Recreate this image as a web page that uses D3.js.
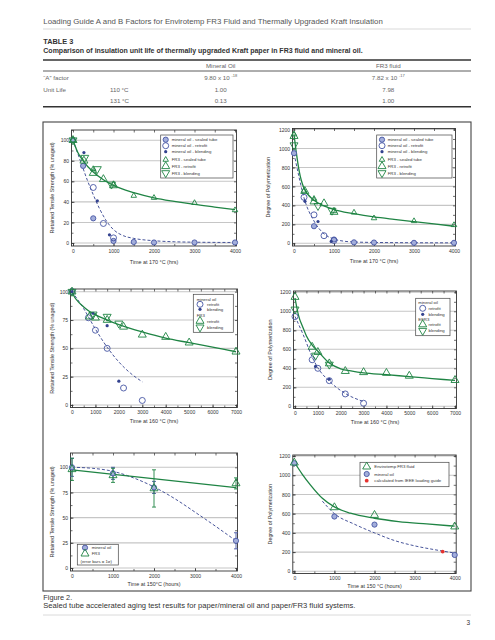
<!DOCTYPE html>
<html><head><meta charset="utf-8">
<script src="https://cdn.jsdelivr.net/npm/d3@7"></script>
<style>body{margin:0;background:#fff} svg{display:block;font-family:"Liberation Sans",Arial,Helvetica,sans-serif}</style>
</head><body><svg id="c" width="495" height="640"></svg>
<script>
// ---------- Table data ----------
const tableCols = ["Mineral Oil", "FR3 fluid"];
const aFactorBase = ["9.80 x 10", "7.82 x 10"];
const aFactorExp = ["-18", "-17"];
const unitLife110 = ["1.00", "7.98"];
const unitLife131 = ["0.13", "1.00"];

// ---------- Panel A: tensile, 170 C ----------
const a_moSealed = [[0,100],[250,75],[500,24],[1000,2],[1500,1],[2000,0.5],[3000,0.5],[4000,0.5]];
const a_moRetrofit = [[500,54],[750,19],[1000,5]];
const a_moBlend = [[270,88],[600,41],[900,8]];
const a_frSealed = [[0,100],[500,72],[1000,57],[1500,46],[2000,44],[3000,39],[4000,32]];
const a_frRetrofit = [[0,100],[270,80],[500,68],[750,62],[1000,56]];
const a_frBlend = [[0,100],[290,83],[600,72],[950,57]];
const a_moFit = [[0,100],[200,78],[355,61],[500,47],[660,33],[800,23],[1000,13],[1250,7],[1500,4.5],[2000,2.2],[2500,1.2],[3000,0.8],[4000,0.5]];
const a_frFit = [[0,100],[120,88],[250,80],[500,69],[750,61.5],[1000,56],[1500,49],[2000,44],[2500,40.5],[3000,37.5],[3500,35],[4000,32.5]];

// ---------- Panel B: DP, 170 C ----------
const b_moSealed = [[0,950],[500,180],[1000,40],[1500,10],[2000,8],[3000,5],[4000,5]];
const b_moRetrofit = [[250,485],[500,300],[750,80],[1000,30]];
const b_moBlend = [[275,443],[600,230],[930,20]];
const b_frSealed = [[0,1150],[250,555],[500,470],[1000,340],[1500,325],[2000,265],[3000,235],[4000,193]];
const b_frRetrofit = [[0,1130],[270,550],[500,440],[750,420],[1000,330]];
const b_frBlend = [[0,1035],[600,395],[950,345]];
const b_moFit = [[0,950],[125,700],[250,480],[500,235],[750,100],[1000,45],[1250,22],[1500,14],[2000,9],[3000,6],[4000,5]];
const b_frFit = [[0,1150],[60,950],[130,760],[250,580],[500,455],[750,395],[1000,355],[1500,312],[2000,278],[2500,252],[3000,228],[3500,205],[4000,180]];

// ---------- Panel C: tensile, 160 C ----------
const c_moRetrofit = [[0,100],[700,77],[1000,66],[1500,50],[2200,15],[3000,4]];
const c_moBlend = [[0,100],[900,81],[1500,70],[2000,21]];
const c_frRetrofit = [[0,100],[750,78],[1000,77],[1500,75],[2200,69],[3000,62],[4000,60],[5000,55],[7000,47]];
const c_frBlend = [[0,100],[900,80],[1500,78],[2000,72]];
const c_moFit = [[0,100],[500,85],[1000,67],[1500,51],[2000,38],[2500,28],[3000,20.5]];
const c_frFit = [[0,100],[100,95.5],[250,91.5],[500,86.5],[750,82.5],[1000,79.5],[1500,75],[2000,71],[3000,64.5],[4000,59],[5000,55],[6000,51],[7000,47]];

// ---------- Panel D: DP, 160 C ----------
const d_moRetrofit = [[0,945],[750,490],[1000,400],[1500,270],[2200,130],[3000,32]];
const d_moBlend = [[900,420],[1500,285]];
const d_frRetrofit = [[0,1150],[750,625],[1000,570],[1500,450],[2200,370],[3000,358],[4000,350],[5000,320],[7000,275]];
const d_frBlend = [[0,1020],[900,535],[1500,440]];
const d_moFit = [[0,945],[365,750],[750,520],[1000,405],[1500,265],[2200,135],[3000,50]];
const d_frFit = [[0,1140],[150,960],[365,820],[500,740],[750,645],[1000,580],[1500,455],[2000,395],[2500,370],[3000,352],[4000,333],[5000,312],[6000,292],[7000,272]];

// ---------- Panel E: tensile, 150 C (mean, 1 sigma) ----------
const e_mo = [[0,100,9],[1000,94,6],[2000,80,6],[4000,27,8]];
const e_fr = [[0,98,11],[1000,92,7],[2000,79,18.5],[4000,84,5.5]];
const e_moFit = [[0,100],[500,99],[1000,96],[1500,89.5],[2000,80.5],[2500,69],[3000,55.5],[3500,41.5],[4000,27]];
const e_frFit = [[0,97.4],[4000,79.8]];

// ---------- Panel F: DP, 150 C ----------
const f_fr = [[0,1130],[1000,665],[2000,585],[4000,465]];
const f_mo = [[0,1125],[1000,570],[2000,486],[4000,170]];
const f_ieee = [[3700,205]];
const f_frFit = [[0,1135],[200,1010],[400,900],[700,760],[1000,670],[1400,605],[2000,552],[2600,518],[3300,493],[4000,470]];
const f_moFit = [[700,730],[1000,600],[1500,490],[2000,400],[2500,320],[3000,265],[3500,225],[4000,190]];

// ---------- Tick values ----------
const ticks4000 = [0,1000,2000,3000,4000];
const ticks7000 = [0,1000,2000,3000,4000,5000,6000,7000];
const ticksT20 = [0,20,40,60,80,100];
const ticksT25 = [0,25,50,75,100];
const ticksDP = [0,200,400,600,800,1000,1200];

const GREEN = "#1f8444", BLUE = "#4656a4", DBLUE = "#33428f", RED = "#e5322f";
const svg = d3.select("#c");
const fmt = d3.format("d");

function triPath(s, inv){
  const h = s*0.866, a = -2*h/3, b = h/3;
  return inv ? `M0,${-a}L${s/2},${-b}L${-s/2},${-b}Z` : `M0,${a}L${s/2},${b}L${-s/2},${b}Z`;
}
function sym(g, type, x, y){
  if (type==="moSealed") g.append("circle").attr("cx",x).attr("cy",y).attr("r",2.6).attr("fill","#a3aedb").attr("stroke",BLUE).attr("stroke-width",0.9);
  else if (type==="moRetrofit") g.append("circle").attr("cx",x).attr("cy",y).attr("r",3).attr("fill","none").attr("stroke",BLUE).attr("stroke-width",0.9);
  else if (type==="moBlend") g.append("circle").attr("cx",x).attr("cy",y).attr("r",1.6).attr("fill",DBLUE);
  else if (type==="ieee") g.append("circle").attr("cx",x).attr("cy",y).attr("r",1.9).attr("fill",RED);
  else if (type==="frSealed") g.append("path").attr("d",triPath(5.5)).attr("transform",`translate(${x},${y})`).attr("fill","none").attr("stroke",GREEN).attr("stroke-width",0.9);
  else if (type==="frRetrofit") g.append("path").attr("d",triPath(8)).attr("transform",`translate(${x},${y})`).attr("fill","none").attr("stroke",GREEN).attr("stroke-width",0.9);
  else if (type==="frBlend") g.append("path").attr("d",triPath(8,true)).attr("transform",`translate(${x},${y})`).attr("fill","none").attr("stroke",GREEN).attr("stroke-width",0.9);
}

function panel(p){
  const x = d3.scaleLinear().domain(p.xd).range(p.xr);
  const y = d3.scaleLinear().domain(p.yd).range(p.yr);
  const [L,R,T,B] = p.frame;
  const g = svg.append("g");
  g.selectAll(null).data(p.yticks).join("line")
    .attr("x1",L).attr("x2",R).attr("y1",d=>y(d)).attr("y2",d=>y(d))
    .attr("stroke","#c6c6c6").attr("stroke-width",1.1);
  const xMinor = d3.range(p.xd[0], p.xd[1]+1, p.xminor);
  const yMinor = d3.range(p.yd[0], p.ymax+0.001, p.yminor);
  const style = s => { s.select(".domain").remove(); s.selectAll("line").attr("stroke","#333").attr("stroke-width",0.7);
    s.selectAll("text").attr("font-size",5).attr("fill","#333").attr("font-family","Liberation Sans, Arial, sans-serif"); };
  g.append("g").attr("transform",`translate(0,${B})`).call(d3.axisBottom(x).tickValues(p.xticks).tickFormat(fmt).tickSizeInner(-3).tickSizeOuter(0).tickPadding(3)).call(style);
  g.append("g").attr("transform",`translate(${L},0)`).call(d3.axisLeft(y).tickValues(p.yticks).tickFormat(fmt).tickSizeInner(-3).tickSizeOuter(0).tickPadding(2.5)).call(style);
  g.append("g").attr("transform",`translate(0,${B})`).call(d3.axisBottom(x).tickValues(xMinor).tickSizeInner(-2).tickSizeOuter(0).tickFormat("")).call(style);
  g.append("g").attr("transform",`translate(0,${T})`).call(d3.axisTop(x).tickValues(xMinor).tickSizeInner(-2.5).tickSizeOuter(0).tickFormat("")).call(style);
  g.append("g").attr("transform",`translate(${L},0)`).call(d3.axisLeft(y).tickValues(yMinor).tickSizeInner(-2).tickSizeOuter(0).tickFormat("")).call(style);
  g.append("g").attr("transform",`translate(${R},0)`).call(d3.axisRight(y).tickValues(yMinor).tickSizeInner(-2.5).tickSizeOuter(0).tickFormat("")).call(style);
  g.append("rect").attr("x",L).attr("y",T).attr("width",R-L).attr("height",B-T).attr("fill","none").attr("stroke","#333").attr("stroke-width",0.9);
  g.append("text").attr("x",(p.xr[0]+p.xr[1])/2).attr("y",p.xty).attr("dy","0.35em").attr("text-anchor","middle").attr("font-size",5.4).attr("fill","#333").text(p.xtitle);
  g.append("text").attr("transform",`translate(${p.ytx},${(T+B)/2}) rotate(-90)`).attr("dy","0.35em").attr("text-anchor","middle").attr("font-size",5.4).attr("fill","#333").text(p.ytitle);
  (p.errs||[]).forEach(e => {
    e.data.forEach(d => {
      g.append("line").attr("x1",x(d[0])).attr("x2",x(d[0])).attr("y1",y(d[1]-d[2])).attr("y2",y(d[1]+d[2])).attr("stroke",e.color).attr("stroke-width",0.9);
      [d[1]-d[2], d[1]+d[2]].forEach(v => g.append("line").attr("x1",x(d[0])-2).attr("x2",x(d[0])+2).attr("y1",y(v)).attr("y2",y(v)).attr("stroke",e.color).attr("stroke-width",0.9));
    });
  });
  const line = d3.line().x(d=>x(d[0])).y(d=>y(d[1])).curve(d3.curveMonotoneX);
  p.fits.forEach(f => g.append("path").attr("d",line(f.data)).attr("fill","none").attr("stroke",f.color)
      .attr("stroke-width",f.w).attr("stroke-dasharray",f.dash||null));
  p.series.forEach(s => s.data.forEach(d => sym(g, s.type, x(d[0]), y(d[1]))));
  const lg = p.legend;
  g.append("rect").attr("x",lg.box[0]).attr("y",lg.box[1]).attr("width",lg.box[2]).attr("height",lg.box[3]).attr("fill","#fff").attr("stroke","#444").attr("stroke-width",0.7);
  lg.rows.forEach(r => {
    if (r.type) sym(g, r.type, lg.sx, r.y);
    g.append("text").attr("x", r.type ? lg.tx : (r.x||lg.hx)).attr("y",r.y).attr("dy","0.35em").attr("font-size",lg.fs||4.3).attr("fill","#333").text(r.label);
  });
}

// ---------- Page header & table ----------
function fit(t, w){ const L = t.node().getComputedTextLength(); t.attr("font-size", parseFloat(t.attr("font-size"))*w/L); }
fit(svg.append("text").attr("x",43.3).attr("y",24.3).attr("font-size",7.5).attr("fill","#555").text("Loading Guide A and B Factors for Envirotemp FR3 Fluid and Thermally Upgraded Kraft Insulation"), 340);
svg.append("line").attr("x1",43).attr("x2",471).attr("y1",29).attr("y2",29).attr("stroke","#cfcfcf").attr("stroke-width",0.8);
fit(svg.append("text").attr("x",43.3).attr("y",44).attr("font-size",6.5).attr("font-weight","bold").attr("fill","#333").text("TABLE 3"), 30);
fit(svg.append("text").attr("x",43.3).attr("y",53).attr("font-size",6.5).attr("font-weight","bold").attr("fill","#333").text("Comparison of insulation unit life of thermally upgraded Kraft paper in FR3 fluid and mineral oil."), 320);
svg.append("line").attr("x1",43).attr("x2",471).attr("y1",60).attr("y2",60).attr("stroke","#333").attr("stroke-width",1.6);
svg.append("line").attr("x1",43).attr("x2",471).attr("y1",71).attr("y2",71).attr("stroke","#333").attr("stroke-width",0.8);
svg.append("line").attr("x1",43).attr("x2",471).attr("y1",106.7).attr("y2",106.7).attr("stroke","#333").attr("stroke-width",1.6);
const colX = [220.7, 388.3];
const tfs = 6.2, tcol = "#666";
tableCols.forEach((c,i) => svg.append("text").attr("x",colX[i]).attr("y",67.8).attr("text-anchor","middle").attr("font-size",tfs).attr("fill",tcol).text(c));
svg.append("text").attr("x",43.3).attr("y",79.5).attr("font-size",tfs).attr("fill",tcol).text("\u201CA\u201D factor");
aFactorBase.forEach((b,i) => { const t = svg.append("text").attr("x",colX[i]).attr("y",79.5).attr("text-anchor","middle").attr("font-size",tfs).attr("fill",tcol);
  t.append("tspan").text(b + " "); t.append("tspan").attr("font-size",4).attr("dy",-2.3).text(aFactorExp[i]); });
svg.append("text").attr("x",43.3).attr("y",91.5).attr("font-size",tfs).attr("fill",tcol).text("Unit Life");
svg.append("text").attr("x",110).attr("y",91.5).attr("font-size",tfs).attr("fill",tcol).text("110 \u00B0C");
svg.append("text").attr("x",110).attr("y",103).attr("font-size",tfs).attr("fill",tcol).text("131 \u00B0C");
unitLife110.forEach((v,i) => svg.append("text").attr("x",colX[i]).attr("y",91.5).attr("text-anchor","middle").attr("font-size",tfs).attr("fill",tcol).text(v));
unitLife131.forEach((v,i) => svg.append("text").attr("x",colX[i]).attr("y",103).attr("text-anchor","middle").attr("font-size",tfs).attr("fill",tcol).text(v));

svg.append("rect").attr("x",43).attr("y",122).attr("width",428).attr("height",469).attr("fill","none").attr("stroke","#444").attr("stroke-width",1.1);

const legTop = [
  {y:139.7,type:"moSealed",label:"mineral oil - sealed tube"},
  {y:145.7,type:"moRetrofit",label:"mineral oil - retrofit"},
  {y:151.7,type:"moBlend",label:"mineral oil - blending"},
  {y:159.7,type:"frSealed",label:"FR3 - sealed tube"},
  {y:166.3,type:"frRetrofit",label:"FR3 - retrofit"},
  {y:173,type:"frBlend",label:"FR3 - blending"}];

const T_TITLE = "Retained Tensile Strength (% unaged)", DP_TITLE = "Degree of Polymerization";

panel({xd:[0,4000], xr:[73,235], yd:[0,100], ymax:110, yr:[243,140.2], frame:[71.5,236.5,130,246],
  xticks:ticks4000, yticks:ticksT20, xminor:500, yminor:10, xtitle:"Time at 170 \u00B0C (hrs)", xty:262, ytitle:T_TITLE, ytx:52,
  fits:[{data:a_moFit,color:DBLUE,w:0.9,dash:"3,2"},{data:a_frFit,color:GREEN,w:1.3}],
  series:[{type:"moSealed",data:a_moSealed},{type:"moRetrofit",data:a_moRetrofit},{type:"moBlend",data:a_moBlend},
          {type:"frSealed",data:a_frSealed},{type:"frRetrofit",data:a_frRetrofit},{type:"frBlend",data:a_frBlend}],
  legend:{box:[160.7,135,72.3,43],sx:165.7,tx:171.7,rows:legTop}});

panel({xd:[0,4000], xr:[294,454], yd:[0,1200], ymax:1200, yr:[243.3,129.5], frame:[292.5,455.5,128.5,246],
  xticks:ticks4000, yticks:ticksDP, xminor:500, yminor:100, xtitle:"Time at 170 \u00B0C (hrs)", xty:261, ytitle:DP_TITLE, ytx:268,
  fits:[{data:b_moFit,color:DBLUE,w:0.9,dash:"3,2"},{data:b_frFit,color:GREEN,w:1.3}],
  series:[{type:"moSealed",data:b_moSealed},{type:"moRetrofit",data:b_moRetrofit},{type:"moBlend",data:b_moBlend},
          {type:"frSealed",data:b_frSealed},{type:"frRetrofit",data:b_frRetrofit},{type:"frBlend",data:b_frBlend}],
  legend:{box:[376.7,135,75.3,43],sx:382,tx:387.7,rows:legTop}});

panel({xd:[0,7000], xr:[72,236], yd:[0,100], ymax:100, yr:[405,291.7], frame:[70.5,237.5,289,407.5],
  xticks:ticks7000, yticks:ticksT25, xminor:500, yminor:12.5, xtitle:"Time at 160 \u00B0C (hrs)", xty:421, ytitle:T_TITLE, ytx:52,
  fits:[{data:c_moFit,color:DBLUE,w:0.9,dash:"3,2"},{data:c_frFit,color:GREEN,w:1.3}],
  series:[{type:"moRetrofit",data:c_moRetrofit},{type:"moBlend",data:c_moBlend},{type:"frRetrofit",data:c_frRetrofit},{type:"frBlend",data:c_frBlend}],
  legend:{box:[193.3,294.3,40,38],sx:200,tx:207,hx:196.7,rows:[
    {y:299.3,label:"mineral oil"},{y:304.3,type:"moRetrofit",label:"retrofit"},{y:309.3,type:"moBlend",label:"blending"},
    {y:315,label:"FR3"},{y:321,type:"frRetrofit",label:"retrofit"},{y:327.3,type:"frBlend",label:"blending"}]}});

panel({xd:[0,7000], xr:[295,455], yd:[0,1200], ymax:1200, yr:[406.3,292.3], frame:[293.5,456.5,291,408.5],
  xticks:ticks7000, yticks:ticksDP, xminor:500, yminor:100, xtitle:"Time at 160 \u00B0C (hrs)", xty:421.7, ytitle:DP_TITLE, ytx:270,
  fits:[{data:d_moFit,color:DBLUE,w:0.9,dash:"3,2"},{data:d_frFit,color:GREEN,w:1.3}],
  series:[{type:"moRetrofit",data:d_moRetrofit},{type:"moBlend",data:d_moBlend},{type:"frRetrofit",data:d_frRetrofit},{type:"frBlend",data:d_frBlend}],
  legend:{box:[415.7,298.3,34.3,37.4],sx:422.7,tx:428.5,hx:418.3,rows:[
    {y:302.3,label:"mineral oil"},{y:308.3,type:"moRetrofit",label:"retrofit"},{y:314.3,type:"moBlend",label:"blending"},
    {y:319,label:"EFR3"},{y:324.5,type:"frRetrofit",label:"retrofit"},{y:330.7,type:"frBlend",label:"blending"}]}});

panel({xd:[0,4000], xr:[72,236], yd:[0,100], ymax:110, yr:[568,467.3], frame:[70.5,237.5,453,571],
  xticks:ticks4000, yticks:ticksT25, xminor:500, yminor:12.5, xtitle:"Time at 150\u00B0C (hours)", xty:584, ytitle:T_TITLE, ytx:52,
  errs:[{data:e_mo,color:BLUE},{data:e_fr,color:GREEN}],
  fits:[{data:e_moFit,color:DBLUE,w:0.9,dash:"3,2"},{data:e_frFit,color:GREEN,w:1.3}],
  series:[{type:"moSealed",data:e_mo},{type:"frRetrofit",data:e_fr}],
  legend:{box:[77.3,544.3,41,20.7],sx:85,tx:91.7,rows:[
    {y:547.7,type:"moSealed",label:"mineral oil"},{y:553.7,type:"frRetrofit",label:"FR3"},{y:561,label:"(error bars = 1\u03C3)",x:80.5}]}});

panel({xd:[0,4000], xr:[294.3,454.7], yd:[0,1200], ymax:1200, yr:[571.3,456], frame:[292.8,456.2,455,573.5],
  xticks:ticks4000, yticks:ticksDP, xminor:500, yminor:100, xtitle:"Time at 150 \u00B0C (hours)", xty:586, ytitle:DP_TITLE, ytx:270,
  fits:[{data:f_moFit,color:DBLUE,w:0.9,dash:"3,2"},{data:f_frFit,color:GREEN,w:1.3}],
  series:[{type:"moSealed",data:f_mo},{type:"frRetrofit",data:f_fr},{type:"ieee",data:f_ieee}],
  legend:{box:[360,462.3,89,24.4],sx:366.7,tx:374.3,rows:[
    {y:466.7,type:"frRetrofit",label:"Envirotemp FR3 fluid"},{y:474,type:"moSealed",label:"mineral oil"},{y:480.7,type:"ieee",label:"calculated from IEEE loading guide"}]}});

fit(svg.append("text").attr("x",43.3).attr("y",599.6).attr("font-size",6.5).attr("fill","#333").text("Figure 2."), 29);
fit(svg.append("text").attr("x",43.3).attr("y",608).attr("font-size",6.5).attr("fill","#333").text("Sealed tube accelerated aging test results for paper/mineral oil and paper/FR3 fluid systems."), 312.7);
svg.append("line").attr("x1",43).attr("x2",471).attr("y1",615).attr("y2",615).attr("stroke","#d0d0d0").attr("stroke-width",0.8);
svg.append("text").attr("x",470).attr("y",624.5).attr("text-anchor","end").attr("font-size",6.5).attr("fill","#333").text("3");
</script></body></html>
